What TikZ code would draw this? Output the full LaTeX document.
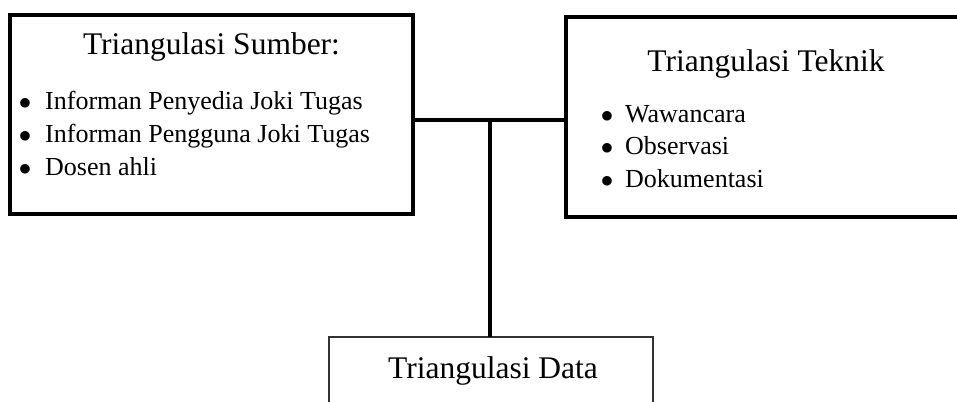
\documentclass[tikz,border=0pt]{standalone}
\usepackage{fontspec}
\setmainfont{Liberation Serif}
\usetikzlibrary{positioning}

\begin{document}
\begin{tikzpicture}[
x=1pt, y=-1pt,
bigbox/.style={rectangle, draw=black, line width=4, inner sep=0, outer sep=0},
databox/.style={rectangle, draw=black!80, line width=1.3, inner sep=0, outer sep=0},
title/.style={anchor=base, inner sep=0, font=\fontsize{31.5}{36}\selectfont},
item/.style={anchor=base west, inner sep=0, font=\fontsize{26}{30}\selectfont},
dot/.style={anchor=base, inner sep=0, font=\fontsize{26}{30}\selectfont},
link/.style={line width=4, black}
]
\useasboundingbox (0,0) rectangle (957,401);
%Nodes
\node[bigbox, minimum width=403, minimum height=199]  (Sumber)  at (211.5,114.5) {};
\node[bigbox, minimum width=396, minimum height=200]  (Teknik)  at (764,117)     {};
\node[databox, minimum width=324, minimum height=83]  (Data)    at (491,378.5)   {};

\node[title]  (SumberT)  at (211.5,55)  {Triangulasi Sumber:};
\node[dot]    (SumberD1) at (25,110)    {$\bullet$};
\node[item]   (Sumber1)  at (45,110)    {Informan Penyedia Joki Tugas};
\node[dot]    (SumberD2) at (25,142.5)  {$\bullet$};
\node[item]   (Sumber2)  at (45,142.5)  {Informan Pengguna Joki Tugas};
\node[dot]    (SumberD3) at (25,175)    {$\bullet$};
\node[item]   (Sumber3)  at (45,175)    {Dosen ahli};

\node[title]  (TeknikT)  at (766,72)    {Triangulasi Teknik};
\node[dot]    (TeknikD1) at (607,122)   {$\bullet$};
\node[item]   (Teknik1)  at (625,122)   {Wawancara};
\node[dot]    (TeknikD2) at (607,154.5) {$\bullet$};
\node[item]   (Teknik2)  at (625,154.5) {Observasi};
\node[dot]    (TeknikD3) at (607,187)   {$\bullet$};
\node[item]   (Teknik3)  at (625,187)   {Dokumentasi};

\node[title]  (DataT)    at (493,378)   {Triangulasi Data};

\coordinate (J) at (490,119.5);

%Lines
\draw[link] (J -| Sumber.east) -- (J -| Teknik.west);
\draw[link] (J) -- (J |- Data.north);
\end{tikzpicture}
\end{document}
